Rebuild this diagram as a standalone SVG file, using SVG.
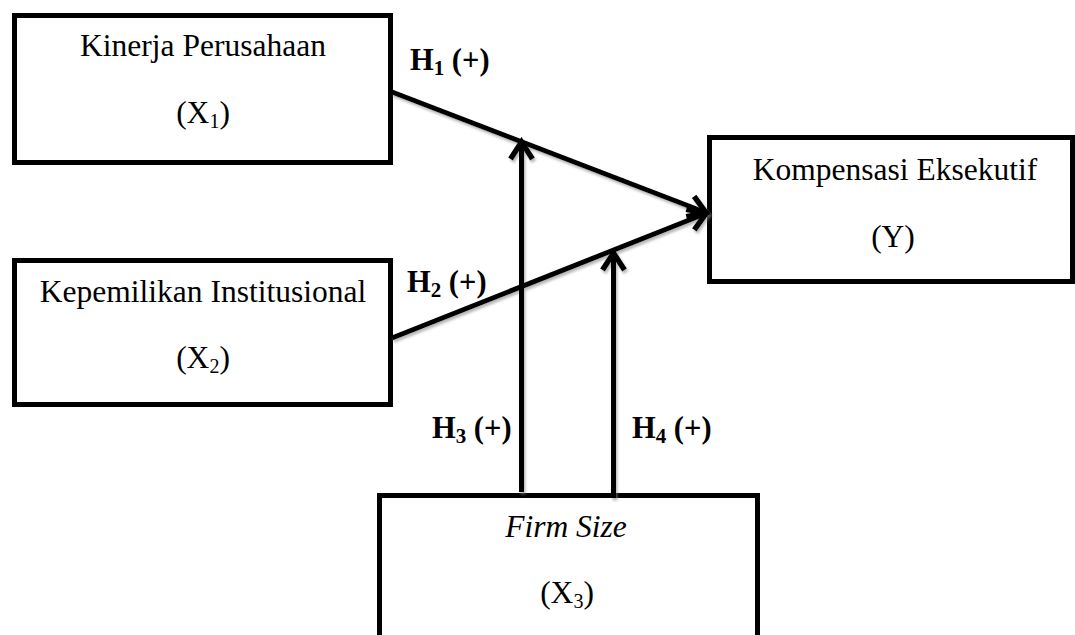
<svg xmlns="http://www.w3.org/2000/svg" width="1075" height="635" viewBox="0 0 1075 635">
<style>
.box{fill:#fff;stroke:#000;stroke-width:5}
.t{font-family:"Liberation Serif","Times New Roman",serif;font-size:31.5px;fill:#000;text-anchor:middle}
.h{font-family:"Liberation Serif","Times New Roman",serif;font-size:30.5px;font-weight:bold;fill:#000}
.c{fill:none;stroke:#000;stroke-width:5}
</style>
<defs>
<filter id="sh" x="-10%" y="-10%" width="120%" height="130%">
<feDropShadow dx="1.5" dy="2.5" stdDeviation="1.2" flood-color="#888" flood-opacity="0.6"/>
</filter>
<marker id="arr" markerUnits="userSpaceOnUse" viewBox="-24 -15 28 30" markerWidth="28" markerHeight="30" refX="0" refY="0" orient="auto">
<path d="M-18,-11 L-1,0 L-18,11" fill="none" stroke="#000" stroke-width="5.5"/>
</marker>
</defs>
<rect width="1075" height="635" fill="#fff"/>
<g id="node-x1">
<rect class="box" x="14.5" y="15.5" width="376" height="147"/>
<text class="t" x="203" y="56">Kinerja Perusahaan</text>
<text class="t" x="203" y="123">(X<tspan font-size="20" dy="5">1</tspan><tspan dy="-5">)</tspan></text>
</g>
<g id="node-x2">
<rect class="box" x="14.5" y="260.5" width="376" height="144"/>
<text class="t" x="203" y="302">Kepemilikan Institusional</text>
<text class="t" x="203" y="368">(X<tspan font-size="20" dy="5">2</tspan><tspan dy="-5">)</tspan></text>
</g>
<g id="node-y">
<rect class="box" x="709.5" y="137.5" width="363" height="144"/>
<text class="t" x="895" y="180">Kompensasi Eksekutif</text>
<text class="t" x="893" y="247">(Y)</text>
</g>
<g id="node-x3">
<rect class="box" x="379.5" y="495.5" width="378" height="150"/>
<text class="t" x="566" y="537" font-style="italic">Firm Size</text>
<text class="t" x="567" y="603">(X<tspan font-size="20" dy="5">3</tspan><tspan dy="-5">)</tspan></text>
</g>
<g id="connectors" filter="url(#sh)">
<line class="c" x1="392" y1="92" x2="707" y2="213" marker-end="url(#arr)"/>
<line class="c" x1="392" y1="338" x2="707" y2="213" marker-end="url(#arr)"/>
<line class="c" x1="521.5" y1="492" x2="521.5" y2="141" marker-end="url(#arr)"/>
<line class="c" x1="613.5" y1="498" x2="613.5" y2="252" marker-end="url(#arr)"/>
</g>
<g id="labels">
<text class="h" x="410" y="70">H<tspan font-size="21" dy="5">1</tspan><tspan dy="-5"> (+)</tspan></text>
<text class="h" x="407" y="292">H<tspan font-size="21" dy="5">2</tspan><tspan dy="-5"> (+)</tspan></text>
<text class="h" x="432" y="438">H<tspan font-size="21" dy="5">3</tspan><tspan dy="-5"> (+)</tspan></text>
<text class="h" x="632" y="438">H<tspan font-size="21" dy="5">4</tspan><tspan dy="-5"> (+)</tspan></text>
</g>
</svg>
